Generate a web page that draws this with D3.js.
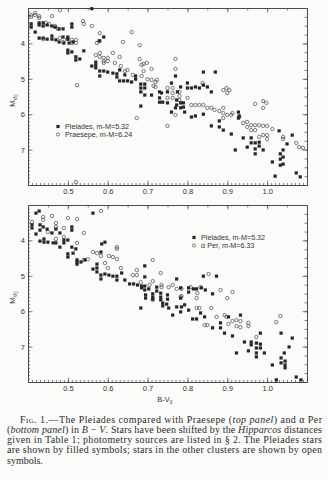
<!DOCTYPE html>
<html><head><meta charset="utf-8">
<script src="https://cdn.jsdelivr.net/npm/d3@7"></script>
<style>html,body{margin:0;padding:0;background:#fbfbf9;}svg{display:block;}</style>
</head><body>
<script>
// ---- data (B-V0, M_V0) ----
const xTicks = [0.5, 0.6, 0.7, 0.8, 0.9, 1.0];
const yTicks = [4, 5, 6, 7];
const xDomain = [0.4, 1.1];
const yDomain = [3, 8];

const pleiadesTop = [
[0.408,3.45],[0.408,3.54],[0.418,3.68],[0.428,3.42],[0.428,3.48],[0.438,3.42],[0.438,3.51],[0.448,3.48],[0.46,3.51],[0.468,3.54],[0.478,3.59],[0.488,3.59],[0.51,3.45],[0.51,3.54],
[0.428,3.85],[0.438,3.85],[0.448,3.88],[0.46,3.88],[0.46,3.79],[0.47,3.9],[0.478,3.96],[0.488,3.82],[0.49,3.99],[0.5,3.82],[0.5,3.88],[0.503,3.99],[0.513,3.96],
[0.5,4.19],[0.5,4.27],[0.51,4.24],[0.52,4.38],[0.52,4.47],[0.53,4.44],[0.54,4.21],
[0.56,4.64],[0.57,4.53],[0.57,4.61],[0.57,4.69],[0.58,4.78],[0.58,4.92],[0.59,4.78],[0.6,4.81],[0.613,4.84],[0.623,4.86],[0.623,4.95],[0.63,4.75],[0.643,4.89],
[0.59,3.82],[0.58,3.93],[0.56,3.02],
[0.63,5.06],[0.64,5.06],[0.65,5.06],[0.66,5.09],[0.67,4.92],[0.67,5.01],[0.683,5.15],[0.683,5.26],[0.683,5.37],[0.693,5.15],[0.693,5.26],[0.693,5.46],[0.71,5.46],[0.73,5.37],[0.73,5.54],[0.73,5.66],[0.738,5.66],[0.75,5.68],[0.76,5.12],[0.77,4.92],[0.775,5.37],[0.783,5.23],[0.783,5.68],[0.783,5.82],[0.77,5.82],[0.76,5.94],[0.683,5.77],[0.8,5.12],[0.8,5.26],[0.81,5.26],[0.82,5.23],[0.83,5.26],[0.84,5.18],[0.85,5.23],[0.84,4.81],[0.87,4.81],[0.86,5.37],[0.81,6.08],[0.82,6.05],[0.793,5.94],[0.86,6.33],[0.88,6.19],[0.88,6.36],[0.928,5.94],[0.928,6.11],
[0.773,5.74],[0.773,5.6],[0.79,5.68],[0.79,5.8],[0.84,6.0],[0.89,6.45],[0.91,6.56],[0.93,6.05],[0.92,7.01],[0.94,6.67],[0.95,6.93],[0.96,6.67],[0.96,6.81],[0.97,6.81],[0.97,6.98],[0.97,7.12],[0.98,6.79],[0.98,6.9],[0.99,7.01],[1.013,7.35],[1.02,7.75],[1.03,6.47],[1.033,7.12],[1.033,7.27],[1.033,7.44],[1.04,7.01],[1.04,7.21],[1.04,7.41],[1.05,6.84],[1.063,6.59],[1.073,7.66],[1.083,7.77],
[0.75,5.37],[0.735,5.4]
];

const praesepeTop = [
[0.408,3.2],[0.408,3.25],[0.418,3.14],[0.418,3.2],[0.428,3.23],[0.428,3.28],[0.445,3.42],[0.453,3.45],[0.46,3.23],[0.468,3.51],[0.475,3.59],[0.48,3.06],
[0.438,3.88],[0.48,3.85],[0.488,3.96],[0.498,3.88],[0.51,3.9],[0.52,3.9],[0.52,3.99],[0.51,3.99],
[0.523,5.18],[0.538,3.37],[0.54,3.45],[0.56,3.51],[0.58,3.71],[0.573,3.99],[0.578,3.93],
[0.57,4.33],[0.58,4.27],[0.58,4.38],[0.59,4.41],[0.59,4.5],[0.59,4.55],[0.6,4.41],[0.6,4.5],[0.613,4.27],[0.618,4.55],[0.63,4.38],[0.633,4.64],[0.643,4.78],[0.65,4.75],[0.638,3.96],[0.66,3.68],[0.68,4.05],[0.68,4.44],[0.685,4.61],[0.69,4.78],[0.698,4.55],[0.71,4.72],[0.663,4.89],[0.685,4.92],[0.7,5.01],[0.715,5.2],[0.723,5.03],
[0.77,4.44],[0.77,4.72],[0.72,5.09],[0.72,5.23],[0.89,5.32],[0.898,5.26],[0.905,5.32],[0.9,5.4],[0.838,5.12],[0.97,5.71],[0.99,5.63],[0.998,5.68],[0.99,5.82],
[0.69,4.58],[0.71,5.03],[0.75,5.26],[0.763,5.26],[0.763,5.4],[0.763,5.54],[0.78,5.37],[0.78,5.49],[0.78,5.6],[0.75,5.54],[0.8,5.54],[0.81,5.74],[0.82,5.74],[0.83,5.74],[0.84,5.74],[0.85,5.82],[0.86,5.82],[0.88,5.91],[0.89,5.82],[0.89,5.97],[0.89,6.11],[0.9,6.02],[0.913,5.97],[0.77,6.02],[0.673,6.11],[0.75,6.33],[0.94,6.25],[0.95,6.22],
[0.868,5.88],[0.91,6.02],[0.93,6.08],[0.95,6.36],[0.96,6.31],[0.96,6.45],[0.97,6.31],[0.97,6.45],[0.98,6.31],[0.99,6.33],[1.0,6.33],[1.013,6.42],[0.99,6.59],[1.0,6.59],[1.0,6.7],[0.98,6.64],[1.04,6.64],[1.04,6.7],[1.073,6.81],[1.08,6.93],[1.09,6.95],
[0.52,7.92]
];

const pleiadesBottom = [
[0.42,3.23],[0.428,3.17],[0.41,3.56],[0.41,3.65],[0.42,3.82],[0.43,3.56],[0.43,3.71],[0.438,3.62],[0.448,3.68],[0.46,3.79],[0.47,3.68],[0.48,3.79],[0.51,3.62],[0.51,3.71],
[0.43,4.02],[0.44,3.96],[0.44,4.05],[0.45,4.05],[0.463,4.07],[0.47,4.07],[0.48,4.19],[0.49,3.99],[0.49,4.07],[0.5,3.99],[0.51,4.19],[0.52,4.24],[0.5,4.38],[0.5,4.47],[0.513,4.36],[0.523,4.55],[0.523,4.61],[0.533,4.61],[0.523,4.67],[0.543,4.55],[0.563,3.23],[0.585,4.1],[0.593,4.05],[0.583,4.33],
[0.563,4.81],[0.573,4.67],[0.573,4.78],[0.573,4.89],[0.583,4.98],[0.583,5.09],[0.593,4.95],[0.603,4.98],[0.613,5.01],[0.623,5.01],[0.623,5.12],[0.635,4.92],[0.643,5.12],[0.655,5.23],[0.665,5.23],[0.675,5.26],[0.685,5.29],[0.685,5.34],[0.693,5.29],[0.693,5.4],[0.703,5.37],[0.695,5.54],[0.695,5.63],[0.713,5.51],[0.713,5.6],[0.723,5.32],[0.723,5.43],[0.733,5.49],[0.733,5.6],[0.733,5.68],[0.713,5.66],[0.693,4.72],
[0.693,5.03],[0.738,5.77],[0.75,5.66],[0.783,5.34],[0.773,5.09],[0.803,5.34],[0.803,5.46],[0.815,5.37],[0.823,5.37],[0.835,5.34],[0.845,5.4],[0.863,5.51],[0.84,5.01],[0.873,5.01],[0.683,5.91],[0.738,5.85],[0.748,5.8],[0.753,5.91],[0.785,5.88],[0.793,5.82],
[0.783,5.63],[0.75,5.54],
[0.773,5.88],[0.783,6.02],[0.803,5.97],[0.763,6.11],[0.813,6.22],[0.823,6.22],[0.833,6.05],[0.843,6.16],[0.863,6.47],[0.883,6.33],[0.883,6.47],[0.893,6.62],[0.903,6.16],[0.913,6.7],[0.933,6.11],[0.943,6.87],[0.923,7.18],[0.953,7.12],[0.96,6.87],[0.96,6.95],[0.973,6.9],[0.973,7.04],[0.973,7.18],[0.973,7.29],[0.983,6.62],[0.983,6.93],[0.983,7.04],[0.993,7.18],[1.013,7.52],[1.023,7.94],[1.035,6.62],[1.035,7.32],[1.035,7.46],[1.043,7.18],[1.045,7.41],[1.045,7.52],[1.045,7.6],[1.055,7.01],[1.063,6.76],[1.073,7.86],[1.085,7.94]
];

const alphaPerBottom = [
[0.41,3.48],[0.438,3.34],[0.438,3.42],[0.46,3.31],[0.47,3.51],[0.47,3.62],[0.45,3.76],[0.49,3.65],[0.5,3.37],[0.523,3.4],[0.54,3.79],[0.583,3.17],[0.47,3.96],[0.49,3.9],[0.523,4.07],[0.54,4.55],[0.55,4.53],[0.563,4.33],[0.573,4.36],[0.583,4.44],[0.593,4.64],[0.603,4.44],[0.613,4.47],[0.623,4.53],[0.623,4.19],[0.623,4.24],[0.6,4.78],[0.633,4.78],[0.663,4.98],[0.673,4.98],[0.683,5.18],[0.713,4.55],[0.713,5.15],[0.705,5.26],[0.733,4.92],
[0.735,5.26],[0.735,5.32],[0.753,5.32],[0.763,5.26],[0.808,5.32],[0.833,5.32],[0.853,4.95],[0.883,5.4],[0.913,5.46],[0.9,5.63],[0.783,5.6],[0.823,5.63],[0.823,5.91],[0.83,5.91],[0.86,5.91],
[0.673,4.84],[0.773,5.37],[0.785,5.37],[0.713,5.68],[0.825,5.49],[0.785,5.57],
[0.843,6.39],[0.85,6.39],[0.873,6.16],[0.893,6.11],[0.898,6.16],[0.903,6.36],[0.913,6.28],[0.923,6.25],[0.933,6.28],[0.923,6.42],[0.933,6.45],[0.953,6.33],[0.953,6.42],[0.973,6.73],[1.023,6.31],[1.033,6.14]
];

const legendTop = ["Pleiades, m-M=5.32", "Praesepe, m-M=6.24"];
const legendBottom = ["Pleiades, m-M=5.32", "\u03b1 Per, m-M=6.33"];

// ---- drawing ----
const W = 328, H = 480;
const ink = "#262626", frameCol = "#4a4a4a", textCol = "#333";
const svg = d3.select("body").append("svg").attr("width", W).attr("height", H);
svg.append("rect").attr("width", W).attr("height", H).attr("fill", "#fbfbf9");

const x = d3.scaleLinear().domain(xDomain).range([28, 307]);
const minorX = d3.range(41, 110).map(d => d / 100);
const minorY = d3.range(31, 80).map(d => d / 10);

const panels = [
  {top: 8, bottom: 185, filled: pleiadesTop, open: praesepeTop, legend: legendTop, lx: 58, ly: 126.5, xtitle: false},
  {top: 205, bottom: 382, filled: pleiadesBottom, open: alphaPerBottom, legend: legendBottom, lx: 194, ly: 237.5, xtitle: true}
];

const tickFont = "Liberation Sans, Arial, sans-serif";

panels.forEach(p => {
  const y = d3.scaleLinear().domain(yDomain).range([p.top, p.bottom]);
  const g = svg.append("g");

  const styleAxis = sel => {
    sel.selectAll("path.domain").attr("stroke", frameCol).attr("stroke-width", 0.9);
    sel.selectAll("line").attr("stroke", frameCol).attr("stroke-width", 0.7);
    sel.selectAll("text").attr("fill", textCol).attr("font-family", tickFont).attr("font-size", 7.5);
  };
  // bottom
  g.append("g").attr("transform", `translate(0,${p.bottom})`)
    .call(d3.axisBottom(x).tickValues(minorX).tickSize(-2).tickSizeOuter(0).tickFormat(""))
    .call(styleAxis);
  g.append("g").attr("transform", `translate(0,${p.bottom})`)
    .call(d3.axisBottom(x).tickValues(xTicks).tickSize(-4.5).tickSizeOuter(0).tickPadding(4).tickFormat(d3.format(".1f")))
    .call(styleAxis);
  // top
  g.append("g").attr("transform", `translate(0,${p.top})`)
    .call(d3.axisTop(x).tickValues(d3.range(9, 22).map(d => d / 20)).tickSize(-2.5).tickSizeOuter(0).tickFormat(""))
    .call(styleAxis);
  g.append("g").attr("transform", `translate(0,${p.top})`)
    .call(d3.axisTop(x).tickValues(xTicks).tickSize(-4.5).tickSizeOuter(0).tickFormat(""))
    .call(styleAxis);
  // left
  g.append("g").attr("transform", `translate(${x.range()[0]},0)`)
    .call(d3.axisLeft(y).tickValues(minorY).tickSize(-2).tickSizeOuter(0).tickFormat(""))
    .call(styleAxis);
  g.append("g").attr("transform", `translate(${x.range()[0]},0)`)
    .call(d3.axisLeft(y).tickValues(yTicks).tickSize(-4.5).tickSizeOuter(0).tickPadding(3).tickFormat(d3.format("d")))
    .call(styleAxis);
  // right
  g.append("g").attr("transform", `translate(${x.range()[1]},0)`)
    .call(d3.axisRight(y).tickValues(d3.range(13, 32).map(d => d / 4)).tickSize(-2.5).tickSizeOuter(0).tickFormat(""))
    .call(styleAxis);
  g.append("g").attr("transform", `translate(${x.range()[1]},0)`)
    .call(d3.axisRight(y).tickValues(yTicks).tickSize(-4.5).tickSizeOuter(0).tickFormat(""))
    .call(styleAxis);

  // points
  const clipId = "clip" + p.top;
  svg.append("clipPath").attr("id", clipId).append("rect")
    .attr("x", x.range()[0] - 1).attr("y", p.top - 1)
    .attr("width", x.range()[1] - x.range()[0] + 2).attr("height", p.bottom - p.top + 2);
  const pts = g.append("g").attr("clip-path", `url(#${clipId})`);
  pts.selectAll("circle").data(p.open).join("circle")
    .attr("cx", d => x(d[0])).attr("cy", d => y(d[1])).attr("r", 1.7)
    .attr("fill", "none").attr("stroke", "#3a3a3a").attr("stroke-width", 0.65);
  const s = 3.2;
  pts.selectAll("rect").data(p.filled).join("rect")
    .attr("x", d => x(d[0]) - s / 2).attr("y", d => y(d[1]) - s / 2)
    .attr("width", s).attr("height", s).attr("fill", ink);

  // y title
  const yt = g.append("text").attr("transform", `translate(15,${(p.top + p.bottom) / 2 + 4}) rotate(-90)`)
    .attr("text-anchor", "middle").attr("fill", textCol).attr("font-family", tickFont).attr("font-size", 7.5);
  yt.append("tspan").text("M");
  yt.append("tspan").attr("font-size", 5.5).attr("dy", 1.8).text("V");
  yt.append("tspan").attr("font-size", 4.5).attr("dy", 1).text("0");

  // x title
  if (p.xtitle) {
    const xt = g.append("text").attr("x", 165).attr("y", 402).attr("text-anchor", "middle")
      .attr("fill", textCol).attr("font-family", tickFont).attr("font-size", 7.5);
    xt.append("tspan").text("B-V");
    xt.append("tspan").attr("font-size", 5).attr("dy", 1.8).text("0");
  }

  // legend
  const lg = g.append("g").attr("font-family", tickFont).attr("font-size", 7.2).attr("fill", textCol);
  lg.append("rect").attr("x", p.lx - 1.6).attr("y", p.ly - 1.6).attr("width", 3.2).attr("height", 3.2).attr("fill", ink);
  lg.append("text").attr("x", p.lx + 7).attr("y", p.ly + 2.6).text(p.legend[0]);
  lg.append("circle").attr("cx", p.lx).attr("cy", p.ly + 8).attr("r", 1.6).attr("fill", "none").attr("stroke", "#3a3a3a").attr("stroke-width", 0.65);
  lg.append("text").attr("x", p.lx + 7).attr("y", p.ly + 10.6).text(p.legend[1]);
});

// caption
const capLines = [
  {x: 20, w: 302, parts: [["Fig. 1.", "sc"], ["\u2014The Pleiades compared with Praesepe (", ""], ["top panel", "i"], [") and \u03b1 Per", ""]]},
  {x: 7, w: 315, parts: [["(", ""], ["bottom panel", "i"], [") in ", ""], ["B\u2009\u2212\u2009V", "i"], [". Stars have been shifted by the ", ""], ["Hipparcos", "i"], [" distances", ""]]},
  {x: 7, w: 315, parts: [["given in Table 1; photometry sources are listed in \u00a7 2. The Pleiades stars", ""]]},
  {x: 7, w: 315, parts: [["are shown by filled symbols; stars in the other clusters are shown by open", ""]]},
  {x: 7, w: null, parts: [["symbols.", ""]]}
];
capLines.forEach((ln, i) => {
  const t = svg.append("text").attr("x", ln.x).attr("y", 422.5 + i * 10.3)
    .attr("font-family", "Liberation Serif, Times New Roman, serif").attr("font-size", 10).attr("fill", "#2a2a2a");
  if (ln.w) t.attr("textLength", ln.w).attr("lengthAdjust", "spacing");
  ln.parts.forEach(([s, st]) => {
    const ts = t.append("tspan").text(s);
    if (st === "i") ts.attr("font-style", "italic");
    if (st === "sc") ts.attr("font-variant", "small-caps");
  });
});
</script>
</body></html>
